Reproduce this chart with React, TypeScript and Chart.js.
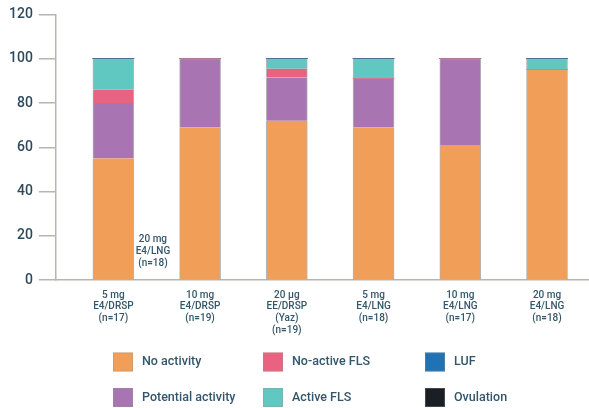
import React, { useEffect, useRef } from 'react';
import { Chart, registerables } from 'chart.js';

Chart.register(...registerables);

const categories: string[][] = [
  ['5 mg', 'E4/DRSP', '(n=17)'],
  ['10 mg', 'E4/DRSP', '(n=19)'],
  ['20 µg', 'EE/DRSP', '(Yaz)', '(n=19)'],
  ['5 mg', 'E4/LNG', '(n=18)'],
  ['10 mg', 'E4/LNG', '(n=17)'],
  ['20 mg', 'E4/LNG', '(n=18)'],
];

const noActivity = [55, 69, 72, 69, 61, 95];
const potentialActivity = [25, 31, 19.5, 22, 39, 0];
const noActiveFLS = [6, 0, 4, 0, 0, 0];
const activeFLS = [14, 0, 4.5, 9, 0, 5];
const luf = [0, 0, 0, 0, 0, 0];
const ovulation = [0, 0, 0, 0, 0, 0];

const yTicks = [0, 20, 40, 60, 80, 100, 120];

const strayLabel = ['20 mg', 'E4/LNG', '(n=18)'];
const strayX = 0.456;
const strayY = 13;

const legendOrder = ['No activity', 'No-active FLS', 'LUF', 'Potential activity', 'Active FLS', 'Ovulation'];

const COLORS: Record<string, string> = {
  'No activity': '#F09E58',
  'Potential activity': '#A974B2',
  'No-active FLS': '#E9627F',
  'Active FLS': '#60C8C1',
  'LUF': '#1F73B5',
  'Ovulation': '#1A1F26',
};

const AXIS = '#b9b4ae';
const TEXT = '#33566a';

export default function App() {
  const ref = useRef<HTMLCanvasElement>(null);

  useEffect(() => {
    document.body.style.margin = '0';
    const series: [string, number[]][] = [
      ['No activity', noActivity],
      ['Potential activity', potentialActivity],
      ['No-active FLS', noActiveFLS],
      ['Active FLS', activeFLS],
      ['LUF', luf],
      ['Ovulation', ovulation],
    ];
    const topIndex = (i: number) => {
      let t = -1;
      series.forEach(([, arr], d) => {
        if (arr[i] > 0) t = d;
      });
      return t;
    };

    const datasets = series.map(([label, arr], d) => ({
      label,
      data: arr.map((v, i) => ({ x: i, y: v })),
      backgroundColor: COLORS[label],
      borderColor: 'rgba(130,130,130,0.6)',
      borderSkipped: false as const,
      borderWidth: (ctx: any) => {
        const i = ctx.dataIndex;
        if (!(arr[i] > 0)) return 0;
        return { left: 1, right: 1, top: topIndex(i) === d ? 1 : 0, bottom: 0 };
      },
      barThickness: 41,
    }));

    const overlay = {
      id: 'overlay',
      afterDraw(chart: any) {
        const ctx = chart.ctx;
        const xs = chart.scales.x;
        const ys = chart.scales.y;
        ctx.save();
        // stray label
        ctx.fillStyle = TEXT;
        ctx.font = '500 10px Roboto';
        ctx.textAlign = 'center';
        ctx.textBaseline = 'middle';
        const cx = xs.getPixelForValue(strayX);
        const cy = ys.getPixelForValue(strayY);
        strayLabel.forEach((t, k) => {
          ctx.fillText(t, cx, cy + (k - 1) * 11.7);
        });
        // legend
        const colX = [113, 263, 425];
        const rowY = [362, 397.5];
        ctx.textAlign = 'left';
        ctx.font = '500 12.5px Roboto';
        legendOrder.forEach((name, k) => {
          const col = k % 3;
          const row = Math.floor(k / 3);
          const ds = chart.data.datasets.find((d: any) => d.label === name);
          const x = colX[col];
          const y = rowY[row];
          ctx.fillStyle = ds.backgroundColor;
          ctx.fillRect(x, y - 9.5, 20, 19);
          ctx.strokeStyle = 'rgba(150,150,150,0.35)';
          ctx.lineWidth = 1;
          ctx.strokeRect(x + 0.5, y - 9, 19, 18);
          ctx.fillStyle = TEXT;
          ctx.fillText(name, x + 29, y);
        });
        ctx.restore();
      },
    };

    const chart = new Chart(ref.current!, {
      type: 'bar',
      data: { datasets: datasets as any },
      plugins: [overlay],
      options: {
        animation: false,
        responsive: true,
        maintainAspectRatio: false,
        layout: { padding: { left: 3, right: 0, top: 8, bottom: 63 } },
        plugins: { legend: { display: false }, tooltip: { enabled: false } },
        scales: {
          x: {
            type: 'linear',
            stacked: true,
            offset: false,
            min: -0.663,
            max: 5.484,
            afterBuildTicks: (scale: any) => {
              scale.ticks = categories.map((_, i) => ({ value: i }));
            },
            grid: { display: true, offset: false, drawOnChartArea: false, drawTicks: false, color: AXIS },
            border: { display: true, color: AXIS, width: 1.5 },
            ticks: {
              autoSkip: false,
              maxRotation: 0,
              padding: 9,
              color: TEXT,
              font: { family: 'Roboto', size: 10, weight: '500', lineHeight: 1.17 } as any,
              callback: (v: any) => {
                const i = Math.round(Number(v));
                return categories[i] ?? '';
              },
            },
          },
          y: {
            stacked: true,
            min: 0,
            max: 120,
            afterBuildTicks: (scale: any) => {
              scale.ticks = yTicks.map((v) => ({ value: v }));
            },
            grid: { display: true, drawOnChartArea: false, drawTicks: true, tickLength: 17, color: AXIS, lineWidth: 1.5 },
            border: { display: true, color: AXIS, width: 1.5 },
            ticks: {
              padding: 6,
              color: '#2c4a5d',
              font: { family: 'Roboto', size: 14, weight: '500' } as any,
            },
          },
        },
      },
    });
    return () => chart.destroy();
  }, []);

  return (
    <div style={{ position: 'relative', width: 589, height: 408 }}>
      <canvas ref={ref} />
    </div>
  );
}
